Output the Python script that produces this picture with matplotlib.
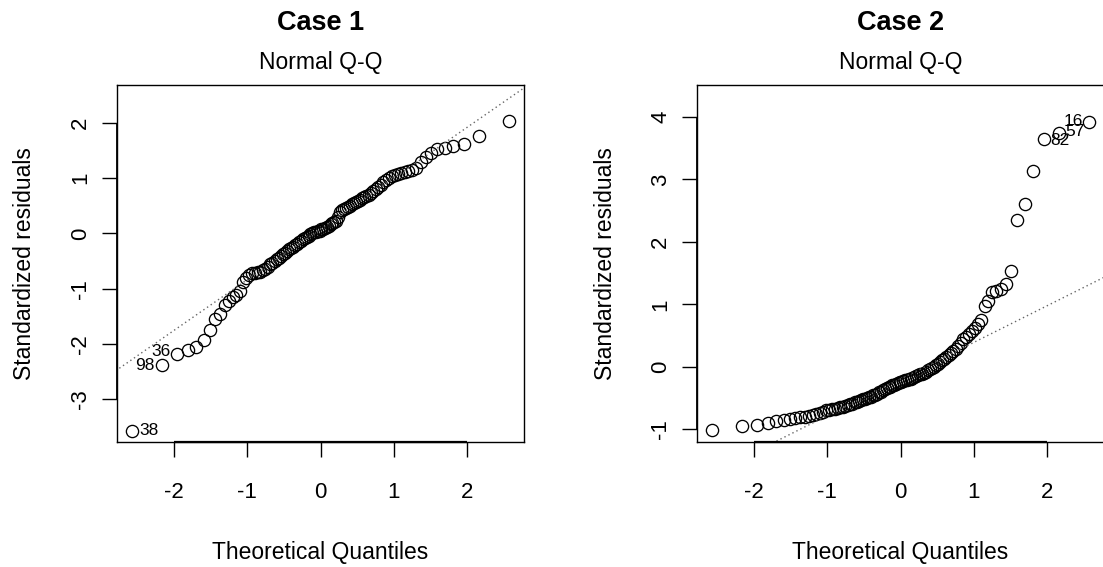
import numpy as np
import matplotlib
matplotlib.use("Agg")
import matplotlib.pyplot as plt
import matplotlib.transforms as mtransforms

plt.rcParams['font.family'] = ['Liberation Sans', 'DejaVu Sans']

# ---------------- data ----------------
n_points = 100
titles = ["Case 1", "Case 2"]
subtitle = "Normal Q-Q"
xlabel = "Theoretical Quantiles"
ylabel = "Standardized residuals"
xticks = [-2, -1, 0, 1, 2]
yticks_case1 = [-3, -2, -1, 0, 1, 2]
yticks_case2 = [-1, 0, 1, 2, 3, 4]

# sorted standardized residuals
resid_case1 = [
    -3.57, -2.38, -2.18, -2.10, -2.05, -1.93, -1.75, -1.55, -1.45, -1.30,
    -1.22, -1.15, -1.12, -1.05, -0.88, -0.80, -0.75, -0.72, -0.71, -0.70,
    -0.69, -0.67, -0.64, -0.60, -0.56, -0.53, -0.50, -0.47, -0.44, -0.41,
    -0.38, -0.35, -0.32, -0.29, -0.27, -0.24, -0.21, -0.19, -0.16, -0.13,
    -0.10, -0.08, -0.06, -0.04, -0.02, 0.00, 0.02, 0.03, 0.04, 0.05,
    0.07, 0.08, 0.10, 0.12, 0.14, 0.16, 0.18, 0.20, 0.22, 0.30,
    0.38, 0.42, 0.44, 0.46, 0.48, 0.50, 0.53, 0.55, 0.57, 0.59,
    0.61, 0.63, 0.65, 0.67, 0.69, 0.72, 0.76, 0.80, 0.84, 0.88,
    0.92, 0.96, 1.00, 1.03, 1.05, 1.07, 1.09, 1.10, 1.12, 1.15,
    1.18, 1.28, 1.38, 1.45, 1.52, 1.55, 1.58, 1.62, 1.75, 2.03,
]
resid_case2 = [
    -1.01, -0.95, -0.94, -0.90, -0.87, -0.85, -0.84, -0.82, -0.81, -0.80,
    -0.79, -0.77, -0.76, -0.74, -0.72, -0.70, -0.69, -0.68, -0.67, -0.66,
    -0.65, -0.64, -0.63, -0.62, -0.60, -0.59, -0.57, -0.56, -0.55, -0.53,
    -0.52, -0.51, -0.50, -0.49, -0.48, -0.46, -0.45, -0.43, -0.41, -0.40,
    -0.38, -0.36, -0.34, -0.33, -0.32, -0.30, -0.29, -0.27, -0.26, -0.25,
    -0.24, -0.23, -0.22, -0.21, -0.20, -0.19, -0.18, -0.16, -0.15, -0.13,
    -0.12, -0.11, -0.10, -0.08, -0.06, -0.04, -0.02, 0.00, 0.02, 0.05,
    0.07, 0.10, 0.13, 0.16, 0.19, 0.22, 0.25, 0.29, 0.33, 0.38,
    0.44, 0.48, 0.52, 0.57, 0.62, 0.68, 0.75, 0.98, 1.05, 1.20,
    1.22, 1.25, 1.33, 1.53, 2.35, 2.60, 3.13, 3.64, 3.74, 3.92,
]
# labelled observations: (rank index in sorted order, label)
labels_case1 = [(0, "38"), (1, "98"), (2, "36")]
labels_case2 = [(99, "16"), (98, "57"), (97, "82")]


def norm_ppf(p):
    # Acklam's rational approximation of the inverse normal CDF
    a = [-3.969683028665376e+01, 2.209460984245205e+02, -2.759285104469687e+02,
         1.383577518672690e+02, -3.066479806614716e+01, 2.506628277459239e+00]
    b = [-5.447609879822406e+01, 1.615858368580409e+02, -1.556989798598866e+02,
         6.680131188771972e+01, -1.328068155288572e+01]
    c = [-7.784894002430293e-03, -3.223964580411365e-01, -2.400758277161838e+00,
         -2.549732539343734e+00, 4.374664141464968e+00, 2.938163982698783e+00]
    d = [7.784695709041462e-03, 3.224671290700398e-01, 2.445134137142996e+00,
         3.754408661907416e+00]
    p = np.asarray(p, dtype=float)
    out = np.empty_like(p)
    plow, phigh = 0.02425, 1 - 0.02425
    lo = p < plow
    hi = p > phigh
    mid = ~(lo | hi)
    q = np.sqrt(-2 * np.log(p[lo]))
    out[lo] = (((((c[0]*q+c[1])*q+c[2])*q+c[3])*q+c[4])*q+c[5]) / \
        ((((d[0]*q+d[1])*q+d[2])*q+d[3])*q+1)
    q = np.sqrt(-2 * np.log(1 - p[hi]))
    out[hi] = -(((((c[0]*q+c[1])*q+c[2])*q+c[3])*q+c[4])*q+c[5]) / \
        ((((d[0]*q+d[1])*q+d[2])*q+d[3])*q+1)
    q = p[mid] - 0.5
    r = q * q
    out[mid] = (((((a[0]*r+a[1])*r+a[2])*r+a[3])*r+a[4])*r+a[5])*q / \
        (((((b[0]*r+b[1])*r+b[2])*r+b[3])*r+b[4])*r+1)
    return out


theo = norm_ppf((np.arange(1, n_points + 1) - 0.5) / n_points)

W, H = 1103, 567
fig = plt.figure(figsize=(W / 100, H / 100), dpi=100)

panels = [
    dict(left=117, resid=resid_case1, yticks=yticks_case1, ylim=(-3.77, 2.68),
         labels=labels_case1,
         offsets={"38": (12, 0), "98": (-12.5, 0), "36": (-11.5, 2)}),
    dict(left=697, resid=resid_case2, yticks=yticks_case2, ylim=(-1.205, 4.51),
         labels=labels_case2,
         offsets={"16": (-11.5, 0.5), "57": (11.5, 1.5), "82": (11.5, -0.5)}),
]

ax_top, ax_bot, ax_w = 85, 442, 407
for k, p in enumerate(panels):
    ax = fig.add_axes([p["left"] / W, (H - ax_bot) / H, ax_w / W, (ax_bot - ax_top) / H])
    y = np.asarray(p["resid"])
    ax.plot(theo, y, linestyle='none', marker='o', markersize=8.8,
            markerfacecolor='none', markeredgecolor='black', markeredgewidth=0.95)
    # qqline through the quartiles
    yq = np.quantile(y, [0.25, 0.75])
    xq = norm_ppf(np.array([0.25, 0.75]))
    slope = (yq[1] - yq[0]) / (xq[1] - xq[0])
    inter = yq[0] - slope * xq[0]
    xx = np.array([-3.0, 3.0])
    ax.plot(xx, inter + slope * xx, linestyle=(0, (1, 2.2)), color='#666666', lw=1.0)

    for idx, lab in p["labels"]:
        ax.annotate(lab, (theo[idx], y[idx]), xytext=p["offsets"][lab],
                    textcoords='offset points', ha='center', va='center',
                    fontsize=12.5, annotation_clip=False)

    ax.set_xlim(-2.782, 2.782)
    ax.set_ylim(*p["ylim"])
    ax.set_xticks(xticks)
    ax.set_xticklabels([str(t) for t in xticks])
    ax.set_yticks(p["yticks"])
    ax.set_yticklabels([str(t) for t in p["yticks"]], rotation=90, va='center')
    ax.tick_params(axis='both', direction='out', length=10.5, width=1.0,
                   labelsize=16)
    ax.tick_params(axis='x', pad=18)
    ax.tick_params(axis='y', pad=8)
    for s in ax.spines.values():
        s.set_linewidth(1.0)
    # R-style axis line spanning the tick range along the bottom
    trx = mtransforms.blended_transform_factory(ax.transData, ax.transAxes)
    ax.plot([xticks[0], xticks[-1]], [0, 0], transform=trx, color='black',
            lw=1.6, clip_on=False, solid_capstyle='butt')
    try_ = mtransforms.blended_transform_factory(ax.transAxes, ax.transData)
    ax.plot([0, 0], [p["yticks"][0], p["yticks"][-1]], transform=try_,
            color='black', lw=1.3, clip_on=False, solid_capstyle='butt')

    ax.set_xlabel(xlabel, fontsize=16.5, va='center')
    ax.xaxis.set_label_coords(0.5, (ax_bot - 553) / (ax_bot - ax_top))
    ax.set_ylabel(ylabel, fontsize=16.5, va='center')
    ax.yaxis.set_label_coords(-92 / ax_w, 0.5)

    cx = (p["left"] + ax_w / 2) / W
    fig.text(cx, 1 - 23 / H, titles[k], ha='center', va='center',
             fontsize=19.5, fontweight='bold')
    fig.text(cx, 1 - 62 / H, subtitle, ha='center', va='center', fontsize=16.5)

fig.savefig("out.png", dpi=100)
